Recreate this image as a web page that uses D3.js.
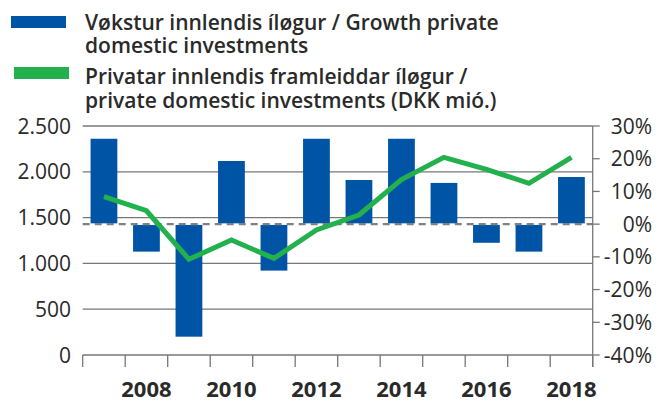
<!DOCTYPE html>
<html><head><meta charset="utf-8">
<script src="https://cdn.jsdelivr.net/npm/d3@7"></script>
<style>
body{margin:0;background:#fff;}
svg{display:block;font-family:"Open Sans",sans-serif;}
</style></head>
<body><svg id="c" width="671" height="402"></svg>
<script>
const years = [2007,2008,2009,2010,2011,2012,2013,2014,2015,2016,2017,2018];
const growthPct = [26.1,-8.4,-34.4,19.3,-14.2,26.1,13.5,26.1,12.6,-5.7,-8.4,14.4];
const investments = [1728,1575,1045,1255,1055,1365,1528,1915,2158,2027,1874,2158];
const leftTicks = [0,500,1000,1500,2000,2500];
const rightTicks = [-40,-30,-20,-10,0,10,20,30];
const xLabelYears = [2008,2010,2012,2014,2016,2018];
const legendItems = [
  {lines:["Vøkstur innlendis íløgur / Growth private","domestic investments"], color:"#0054a6"},
  {lines:["Privatar innlendis framleiddar íløgur /","private domestic investments (DKK mió.)"], color:"#22b14c"}
];

const svg = d3.select("#c");
const L=82.7, R=592.7, T=126, B=355;
const x = d3.scaleBand().domain(years).range([L,R]).paddingInner(0.37).paddingOuter(0.185);
const xb = d3.scaleBand().domain(years).range([L,R]);
const yL = d3.scaleLinear().domain([0,2500]).range([B,T]);
const yR = d3.scaleLinear().domain([-40,30]).range([B,T]);
const gridC="#777", textC="#2a2a2a";

// gridlines
svg.append("g").selectAll("line").data(leftTicks.filter(d=>d>0)).join("line")
  .attr("x1",L).attr("x2",R).attr("y1",d=>yL(d)).attr("y2",d=>yL(d))
  .attr("stroke",gridC).attr("stroke-width",1.3);

// bars
svg.append("g").selectAll("rect").data(years).join("rect")
  .attr("x",(d)=>x(d)).attr("width",x.bandwidth())
  .attr("y",(d,i)=>growthPct[i]>=0? yR(growthPct[i]) : yR(0)+0.8)
  .attr("height",(d,i)=>Math.abs(yR(growthPct[i])-yR(0))-0.8)
  .attr("fill","#0054a6");

// dashed zero line
svg.append("line").attr("x1",L).attr("x2",R).attr("y1",yR(0)).attr("y2",yR(0))
  .attr("stroke","#808080").attr("stroke-width",2.2).attr("stroke-dasharray","7,5");

// line
svg.append("path").datum(investments)
  .attr("d",d3.line().x((d,i)=>xb(years[i])+xb.bandwidth()/2).y(d=>yL(d)))
  .attr("fill","none").attr("stroke","#22b14c").attr("stroke-width",5).attr("stroke-linejoin","miter");

// x axis
const xAxisG = svg.append("g");
xAxisG.append("line").attr("x1",L).attr("x2",R).attr("y1",B).attr("y2",B).attr("stroke",gridC).attr("stroke-width",1.3);
const tickXs = d3.range(years.length+1).map(i=>L+i*xb.step());
xAxisG.selectAll("line.t").data(tickXs).join("line").attr("class","t")
  .attr("x1",d=>d).attr("x2",d=>d).attr("y1",B).attr("y2",B+12)
  .attr("stroke",gridC).attr("stroke-width",1.3);
xAxisG.selectAll("text").data(xLabelYears).join("text")
  .attr("x",d=>xb(d)+xb.bandwidth()/2).attr("y",397)
  .attr("text-anchor","middle").attr("font-size",22).attr("font-weight",700)
  .attr("fill",textC).text(d=>d);

// right axis
const rG = svg.append("g");
rG.append("line").attr("x1",R).attr("x2",R).attr("y1",T).attr("y2",B+12).attr("stroke",gridC).attr("stroke-width",1.3);
rG.selectAll("line.t").data(rightTicks).join("line").attr("class","t")
  .attr("x1",R).attr("x2",R+7).attr("y1",d=>yR(d)).attr("y2",d=>yR(d)).attr("stroke",gridC).attr("stroke-width",1.3);
rG.selectAll("text").data(rightTicks).join("text")
  .attr("x",652).attr("y",d=>yR(d)).attr("dy","0.36em").attr("text-anchor","end")
  .attr("font-size",21).attr("fill",textC).text(d=>(d<0?"-":"")+Math.abs(d)+"%");

// left axis labels
const fmt = d=>d3.format(",")(d).replace(/,/g,".");
svg.append("g").selectAll("text").data(leftTicks).join("text")
  .attr("x",71).attr("y",d=>yL(d)).attr("dy","0.36em").attr("text-anchor","end")
  .attr("font-size",21).attr("fill",textC).text(fmt);

// legend
const lg = svg.append("g");
const rectY=[16,67], rectX=[11,14];
legendItems.forEach((it,k)=>{
  lg.append("rect").attr("x",rectX[k]).attr("y",rectY[k]).attr("width",55).attr("height",12).attr("fill",it.color);
  it.lines.forEach((ln,j)=>{
    lg.append("text").attr("x",85).attr("y",(k===0?29.5:84)+j*23.5)
      .attr("font-size",21).attr("font-weight",600).attr("fill",textC).text(ln);
  });
});
</script></body></html>
